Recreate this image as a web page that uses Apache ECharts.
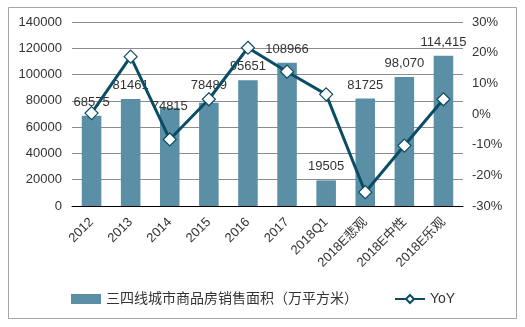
<!DOCTYPE html>
<html><head><meta charset="utf-8">
<script src="https://cdn.jsdelivr.net/npm/echarts@6/dist/echarts.min.js"></script>
<style>html,body{margin:0;padding:0;background:#fff}#c{width:525px;height:327px}</style>
</head><body><div id="c"></div>
<script>
var categories = ['2012','2013','2014','2015','2016','2017','2018Q1','2018E悲观','2018E中性','2018E乐观'];
var salesArea = [68575, 81461, 74815, 78489, 95651, 108966, 19505, 81725, 98070, 114415];
var yoy = [0.3, 18.7, -8.3, 4.8, 21.6, 13.8, 6.4, -25.5, -10.3, 4.8];
var barName = '三四线城市商品房销售面积（万平方米）';
var lineName = 'YoY';
var leftTicks = {min: 0, max: 140000, interval: 20000};
var rightTicks = {min: -30, max: 30, interval: 10};

var FONT = '"Liberation Sans", Arial, "Noto Sans CJK SC", sans-serif';
var labelOffsets = {2: [0, 12], 3: [0, -4]};
var chart = echarts.init(document.getElementById('c'));
chart.setOption({
  animation: false,
  textStyle: {fontFamily: FONT},
  graphic: [{type: 'rect', shape: {x: 8.5, y: 7.5, width: 508, height: 311}, style: {fill: 'none', stroke: '#a6a6a6', lineWidth: 1}, z: -1}],
  grid: {left: 72, right: 62, top: 22, bottom: 121},
  legend: {
    left: 66, top: 287, itemWidth: 30, itemHeight: 10, itemGap: 36,
    textStyle: {fontSize: 14, color: '#333', fontFamily: FONT},
    data: [{name: barName, icon: 'rect'}, {name: lineName}]
  },
  xAxis: {
    type: 'category', data: categories,
    axisLine: {lineStyle: {color: '#000', width: 1}},
    axisTick: {show: false},
    axisLabel: {rotate: 45, fontSize: 13, color: '#333', margin: 14, interval: 0}
  },
  yAxis: [{
    type: 'value', min: leftTicks.min, max: leftTicks.max, interval: leftTicks.interval,
    axisLine: {show: false}, axisTick: {show: false},
    axisLabel: {fontSize: 13, color: '#333', margin: 10, formatter: function(v){return String(v);}},
    splitLine: {lineStyle: {color: '#8c8c8c', width: 1}}
  }, {
    type: 'value', min: rightTicks.min, max: rightTicks.max, interval: rightTicks.interval,
    axisLine: {show: false}, axisTick: {show: false},
    axisLabel: {fontSize: 13, color: '#333', margin: 9, formatter: function(v){return Math.round(v)+'%';}},
    splitLine: {show: false}
  }],
  series: [{
    name: barName, type: 'bar', barWidth: '50%',
    itemStyle: {color: '#5b8fa6'},
    data: salesArea.map(function(v, i){
      var o = {value: v};
      if (labelOffsets[i]) o.label = {offset: labelOffsets[i]};
      return o;
    }),
    label: {show: true, position: 'top', distance: 7, fontSize: 13, color: '#333',
      formatter: function(p){ return p.dataIndex >= 8 ? p.value.toLocaleString('en-US') : String(p.value); }}
  }, {
    name: lineName, type: 'line', yAxisIndex: 1, data: yoy,
    symbol: 'diamond', symbolSize: 13,
    lineStyle: {color: '#0b4d64', width: 3},
    itemStyle: {color: '#ffffff', borderColor: '#0b4d64', borderWidth: 1.2},
    z: 5
  }]
});
</script></body></html>
